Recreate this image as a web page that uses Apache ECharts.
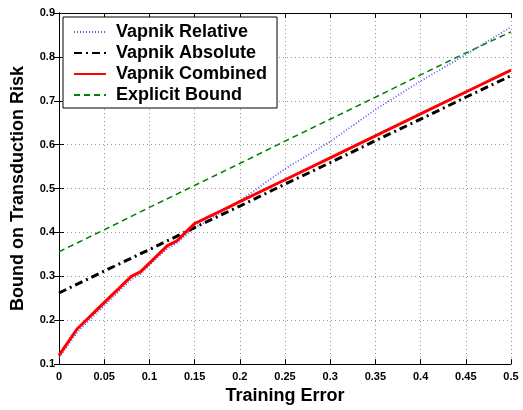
<!DOCTYPE html>
<html>
<head>
<meta charset="utf-8">
<script src="https://cdn.jsdelivr.net/npm/echarts@6/dist/echarts.min.js"></script>
<style>
  html, body { margin: 0; padding: 0; background: #fff; }
  #chart { width: 523px; height: 410px; }
</style>
</head>
<body>
<div id="chart"></div>
<script>
// training error values for the fine curves
var xFine = [0, 0.01, 0.02, 0.03, 0.04, 0.05, 0.06, 0.07, 0.08, 0.09, 0.10,
  0.11, 0.12, 0.13, 0.14, 0.15, 0.16, 0.17, 0.18, 0.19, 0.20,
  0.25, 0.30, 0.35, 0.40, 0.45, 0.50];
var vapnikRelative = [0.115, 0.143, 0.172, 0.193, 0.213, 0.233, 0.253, 0.273, 0.293, 0.305, 0.325,
  0.345, 0.363, 0.375, 0.393, 0.410, 0.422, 0.434, 0.446, 0.458, 0.472,
  0.545, 0.607, 0.680, 0.745, 0.805, 0.868];
var vapnikCombined = [0.12, 0.15, 0.18, 0.20, 0.22, 0.24, 0.26, 0.28, 0.30, 0.31, 0.33,
  0.35, 0.37, 0.38, 0.40, 0.42, 0.43, 0.44, 0.45, 0.46, 0.47,
  0.52, 0.57, 0.62, 0.67, 0.72, 0.77];
// coarse curves
var xCoarse = [0, 0.05, 0.10, 0.15, 0.20, 0.25, 0.30, 0.35, 0.40, 0.45, 0.50];
var vapnikAbsolute = [0.262, 0.312, 0.361, 0.411, 0.460, 0.510, 0.559, 0.609, 0.658, 0.708, 0.757];
var explicitBound = [0.356, 0.406, 0.457, 0.507, 0.557, 0.608, 0.658, 0.708, 0.759, 0.809, 0.857];

function pairs(xs, ys) {
  return xs.map(function (x, i) { return [x, ys[i]]; });
}

var myChart = echarts.init(document.getElementById("chart"));
var font = "Liberation Sans";
var tickFmt = function (v) { return String(Math.round(v * 100) / 100); };

var option = {
  animation: false,
  grid: { left: 59, right: 12, top: 13, bottom: 41 },
  legend: {
    left: 63,
    top: 17,
    orient: "vertical",
    backgroundColor: "#fff",
    borderColor: "#000",
    borderWidth: 1,
    padding: [6, 10, 4, 10],
    itemWidth: 32,
    itemHeight: 14,
    itemGap: 3,
    itemStyle: { opacity: 0 },
    textStyle: { fontFamily: font, fontWeight: "bold", fontSize: 18, color: "#000", lineHeight: 18, padding: [0, 0, 0, 5] },
    data: ["Vapnik Relative", "Vapnik Absolute", "Vapnik Combined", "Explicit Bound"]
  },
  xAxis: [
    {
      type: "value",
      min: 0, max: 0.5, interval: 0.05,
      name: "Training Error",
      nameLocation: "middle",
      nameGap: 22,
      nameTextStyle: { fontFamily: font, fontWeight: "bold", fontSize: 18, color: "#000" },
      axisLine: { lineStyle: { color: "#000", width: 1 } },
      axisTick: { inside: true, length: 5, lineStyle: { color: "#000" } },
      axisLabel: { fontFamily: font, fontWeight: "bold", fontSize: 11, color: "#000", margin: 7, formatter: tickFmt },
      splitLine: { show: true, lineStyle: { color: "#999", type: [1, 3], width: 1 } }
    },
    {
      type: "value", position: "top",
      min: 0, max: 0.5, interval: 0.05,
      axisLine: { lineStyle: { color: "#000", width: 1 } },
      axisTick: { inside: true, length: 5, lineStyle: { color: "#000" } },
      axisLabel: { show: false },
      splitLine: { show: false }
    }
  ],
  yAxis: [
    {
      type: "value",
      min: 0.1, max: 0.9, interval: 0.1,
      name: "Bound on Transduction Risk",
      nameLocation: "middle",
      nameGap: 32,
      nameTextStyle: { fontFamily: font, fontWeight: "bold", fontSize: 18, color: "#000" },
      axisLine: { show: true, lineStyle: { color: "#000", width: 1 } },
      axisTick: { show: true, inside: true, length: 5, lineStyle: { color: "#000" } },
      axisLabel: { fontFamily: font, fontWeight: "bold", fontSize: 11, color: "#000", margin: 4, formatter: tickFmt },
      splitLine: { show: true, lineStyle: { color: "#999", type: [1, 3], width: 1 } }
    },
    {
      type: "value", position: "right",
      min: 0.1, max: 0.9, interval: 0.1,
      axisLine: { show: true, lineStyle: { color: "#000", width: 1 } },
      axisTick: { show: true, inside: true, length: 5, lineStyle: { color: "#000" } },
      axisLabel: { show: false },
      splitLine: { show: false }
    }
  ],
  series: [
    {
      name: "Vapnik Relative",
      type: "line",
      showSymbol: false, symbol: "none",
      data: pairs(xFine, vapnikRelative),
      lineStyle: { color: "#5a5aff", width: 1.8, type: [1, 2] },
      itemStyle: { color: "#5a5aff" },
      z: 3
    },
    {
      name: "Vapnik Absolute",
      type: "line",
      showSymbol: false, symbol: "none",
      data: pairs(xCoarse, vapnikAbsolute),
      lineStyle: { color: "#000", width: 3, type: [8, 4, 2, 4] },
      itemStyle: { color: "#000" },
      z: 4
    },
    {
      name: "Vapnik Combined",
      type: "line",
      showSymbol: false, symbol: "none",
      data: pairs(xFine, vapnikCombined),
      lineStyle: { color: "#ff0000", width: 3 },
      itemStyle: { color: "#ff0000" },
      z: 5
    },
    {
      name: "Explicit Bound",
      type: "line",
      showSymbol: false, symbol: "none",
      data: pairs(xCoarse, explicitBound),
      lineStyle: { color: "#008000", width: 1.5, type: [6, 4] },
      itemStyle: { color: "#008000" },
      z: 3
    }
  ]
};
myChart.setOption(option);
</script>
</body>
</html>
